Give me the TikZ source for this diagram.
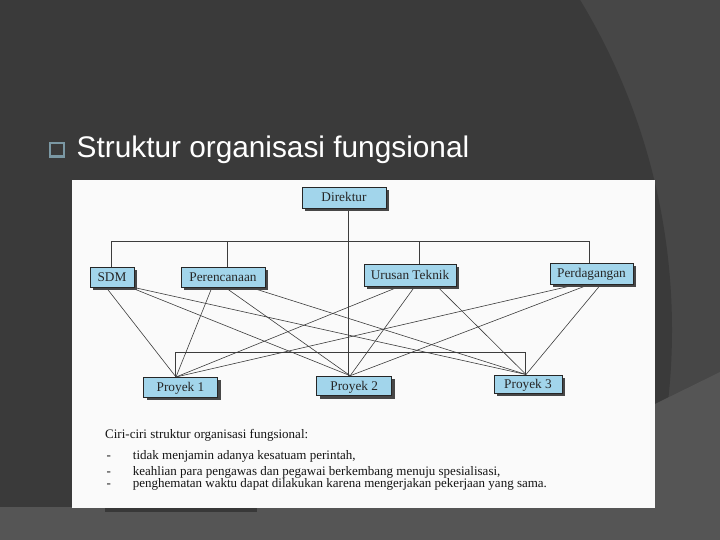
\documentclass[tikz,border=0pt]{standalone}
\usepackage{fontspec}
\setmainfont{Liberation Serif}
\newfontfamily\titlefont{Liberation Sans}
\usetikzlibrary{shadows}
\definecolor{bgdark}{HTML}{3A3A3A}
\definecolor{bgarc}{HTML}{474747}
\definecolor{bgbottom}{HTML}{555555}
\definecolor{paper}{HTML}{FAFAFA}
\definecolor{boxblue}{RGB}{162,213,235}
\definecolor{bulletc}{HTML}{7B98A4}
\definecolor{inkc}{HTML}{262626}
\pgfdeclarelayer{back}
\pgfdeclarelayer{mid}
\pgfsetlayers{back,mid,main}
\tikzset{
  orgbox/.style={draw=inkc, line width=0.5pt, fill=boxblue, inner sep=0pt,
    text=inkc, font=\fontsize{13.3}{14}\selectfont, text height=8.8pt, text depth=0pt,
    drop shadow={shadow xshift=3pt, shadow yshift=-3pt, opacity=1, fill=black!72}},
  conn/.style={draw=inkc!90, line width=0.6pt},
  bodytxt/.style={anchor=base west, inner sep=0pt, text=black!92, font=\fontsize{13}{15}\selectfont},
}
\begin{document}
\begin{tikzpicture}[x=1pt,y=-1pt]
\useasboundingbox (0,0) rectangle (720,540);
\begin{pgfonlayer}{back}
  \fill[bgarc] (0,0) rectangle (720,540);
  \begin{scope}
    \clip (0,0) rectangle (720,540);
    \fill[bgdark] (34,330) circle [radius=638pt];
    \fill[bgbottom] (0,507) -- (72,507) -- (655,404) -- (720,372) -- (720,540) -- (0,540) -- cycle;
  \end{scope}
  \fill[black!78] (105,507) rectangle (257,511.5);
  \fill[paper] (72,180) rectangle (654.5,508.3);
\end{pgfonlayer}

% title
\node[draw=bulletc, line width=2.3pt, minimum width=13.6pt, minimum height=13.8pt, inner sep=0pt] (bul) at (57,149.7) {};
\node[anchor=base west, inner sep=0pt, text=white, font=\titlefont\fontsize{29.8}{34}\selectfont] (title) at (76.5,157.3) {Struktur organisasi fungsional};

% boxes
\node[orgbox, minimum width=84pt, minimum height=21pt] (dir) at (344,197.5) {Direktur};
\node[orgbox, minimum width=44pt, minimum height=20pt] (sdm) at (112,277) {SDM};
\node[orgbox, minimum width=84pt, minimum height=20pt] (per) at (223,277) {Perencanaan};
\node[orgbox, minimum width=92pt, minimum height=22pt] (uru) at (410,275) {Urusan Teknik};
\node[orgbox, minimum width=83pt, minimum height=21pt] (pdg) at (591.5,273.5) {Perdagangan};
\node[orgbox, minimum width=74pt, minimum height=19.5pt] (p1) at (180.5,387) {Proyek 1};
\node[orgbox, minimum width=75pt, minimum height=19.7pt] (p2) at (354.2,385.8) {Proyek 2};
\node[orgbox, minimum width=68pt, minimum height=18.5pt] (p3) at (528,384) {Proyek 3};

% bottom text
\node[bodytxt] (ciri) at (105,438.3) {Ciri-ciri struktur organisasi fungsional:};
\node[bodytxt] (d1) at (106.5,459.3) {-};
\node[bodytxt] (t1) at (132.7,459.3) {tidak menjamin adanya kesatuam perintah,};
\node[bodytxt] (d2) at (106.5,475) {-};
\node[bodytxt] (t2) at (132.7,475) {keahlian para pengawas dan pegawai berkembang menuju spesialisasi,};
\node[bodytxt] (d3) at (106.5,487.7) {-};
\node[bodytxt] (t3) at (132.7,487.7) {penghematan waktu dapat dilakukan karena mengerjakan pekerjaan yang sama.};

\begin{pgfonlayer}{mid}
  % upper bus
  \coordinate (bl) at (111,241);
  \coordinate (br) at (589.3,241);
  \coordinate (dper) at (227,241);
  \coordinate (duru) at (419.5,241);
  \coordinate (vx) at (348,241);
  \draw[conn] (bl) -- (br);
  \draw[conn] (bl) -- (sdm.north -| bl);
  \draw[conn] (dper) -- (per.north -| dper);
  \draw[conn] (duru) -- (uru.north -| duru);
  \draw[conn] (br) -- (pdg.north -| br);
  \draw[conn] (dir.south -| vx) -- (p2.north -| vx);
  % lower bus
  \coordinate (lb1) at (175,352);
  \coordinate (lb2) at (525,352);
  \draw[conn] (p1.north -| lb1) -- (lb1) -- (lb2) -- (p3.north -| lb2);
  % diagonals
  \draw[conn] ([xshift=-6pt]sdm.south) -- ([xshift=-4.5pt]p1.north);
  \draw[conn] ([xshift=18pt]sdm.south) -- ([xshift=-4pt]p2.north);
  \draw[conn] ([xshift=21pt]sdm.south) -- ([xshift=-2pt]p3.north);
  \draw[conn] ([xshift=-11pt]per.south) -- ([xshift=-4.5pt]p1.north);
  \draw[conn] ([xshift=2pt]per.south) -- ([xshift=-4pt]p2.north);
  \draw[conn] ([xshift=27pt]per.south) -- ([xshift=-2pt]p3.north);
  \draw[conn] ([xshift=-10pt]uru.south) -- ([xshift=-4.5pt]p1.north);
  \draw[conn] ([xshift=5pt]uru.south) -- ([xshift=-4pt]p2.north);
  \draw[conn] ([xshift=27pt]uru.south) -- ([xshift=-2pt]p3.north);
  \draw[conn] ([xshift=-13.5pt]pdg.south) -- ([xshift=-4.5pt]p1.north);
  \draw[conn] ([xshift=-1.5pt]pdg.south) -- ([xshift=-4pt]p2.north);
  \draw[conn] ([xshift=9.5pt]pdg.south) -- ([xshift=-2pt]p3.north);
\end{pgfonlayer}
\end{tikzpicture}
\end{document}
